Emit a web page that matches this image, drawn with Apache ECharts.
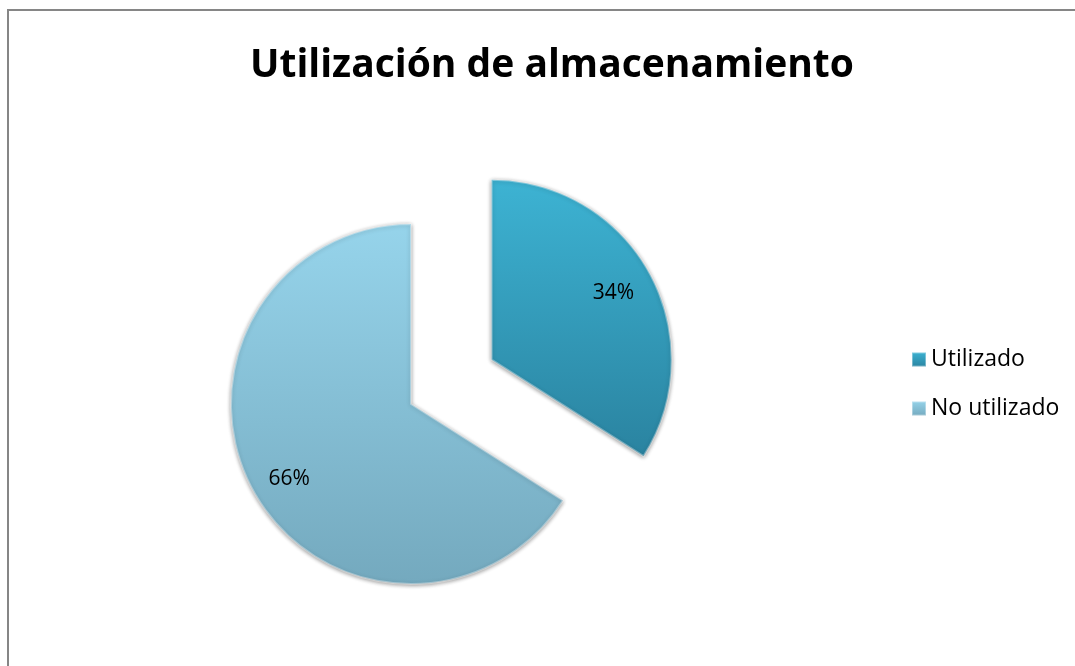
<!DOCTYPE html>
<html>
<head>
<meta charset="utf-8">
<script src="https://cdn.jsdelivr.net/npm/echarts@6/dist/echarts.min.js"></script>
<style>
  html, body { margin: 0; padding: 0; background: #fff; }
  #main { width: 1075px; height: 666px; }
</style>
</head>
<body>
<div id="main"></div>
<script>
// datos del grafico
var categorias = ['Utilizado', 'No utilizado'];
var valores = [34, 66];
var separado = [true, false];

// colores: arriba / abajo de cada porcion
var coloresArriba = ['#3db3d3', '#96d4eb'];
var coloresAbajo = ['#2a83a0', '#74a9be'];

var myChart = echarts.init(document.getElementById('main'));

function degradado(i) {
    return new echarts.graphic.LinearGradient(0, 0, 0, 1, [
        { offset: 0, color: coloresArriba[i] },
        { offset: 1, color: coloresAbajo[i] }
    ]);
}

var datosPie = categorias.map(function (nombre, i) {
    return {
        name: nombre,
        value: valores[i],
        selected: separado[i],
        itemStyle: {
            color: degradado(i),
            borderColor: 'rgba(255,255,255,0.35)',
            borderWidth: 2
        }
    };
});

// serie transparente solo para colocar las etiquetas mas afuera
var datosEtiquetas = categorias.map(function (nombre, i) {
    return {
        name: nombre,
        value: valores[i],
        selected: separado[i]
    };
});

var centro = [411, 404];
var option = {
    animation: false,
    title: {
        text: 'Utilización de almacenamiento',
        left: 245,
        top: 41,
        textStyle: {
            fontFamily: 'Open Sans',
            fontWeight: 'bold',
            fontSize: 39,
            color: '#000'
        }
    },
    legend: {
        orient: 'vertical',
        left: 906,
        top: 343,
        itemWidth: 14,
        itemHeight: 14,
        itemGap: 26,
        icon: 'rect',
        data: categorias,
        textStyle: {
            fontFamily: 'Open Sans',
            fontSize: 23,
            color: '#000'
        }
    },
    graphic: [{
        type: 'rect',
        shape: { x: 8, y: 10, width: 1100, height: 700 },
        style: { fill: 'none', stroke: '#868686', lineWidth: 2 },
        silent: true
    }],
    series: [
        {
            type: 'pie',
            center: centro,
            radius: 180,
            startAngle: 90,
            selectedMode: 'single',
            selectedOffset: 92,
            label: { show: false },
            labelLine: { show: false },
            itemStyle: {
                shadowBlur: 4,
                shadowColor: 'rgba(0,0,0,0.45)',
                shadowOffsetY: 1
            },
            emphasis: { disabled: true },
            silent: true,
            data: datosPie
        },
        {
            type: 'pie',
            center: centro,
            radius: [92, 180],
            startAngle: 90,
            selectedMode: 'single',
            selectedOffset: 92,
            silent: true,
            emphasis: { disabled: true },
            itemStyle: { color: 'rgba(0,0,0,0)' },
            label: {
                show: true,
                position: 'inside',
                formatter: '{d}%',
                fontFamily: 'Open Sans',
                fontSize: 21,
                color: '#000',
                offset: [0, 8]
            },
            labelLine: { show: false },
            data: datosEtiquetas
        }
    ]
};

myChart.setOption(option);
</script>
</body>
</html>
